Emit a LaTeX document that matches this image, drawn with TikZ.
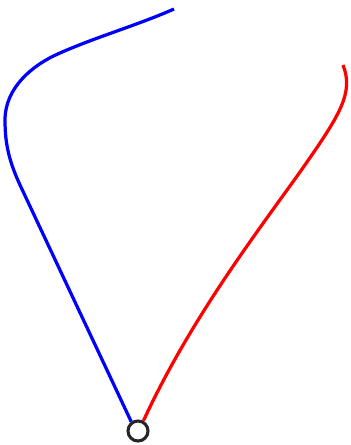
\documentclass[tikz,border=0pt]{standalone}
\usepackage{tikz}

\begin{document}
\begin{tikzpicture}[x=0.025cm,y=-0.025cm]

\useasboundingbox (0,0) rectangle (350,445);

\node[draw=black!85,circle,line width=2.2pt,minimum size=0.5cm,inner sep=0pt]
(O)
at (138,431)
{};

\coordinate
(B)
at (174,9);

\coordinate
(R)
at (343,65);

\draw[blue,line width=2.3pt] (O.126) -- (20,185)
  .. controls (9.5,162) and (5,145) .. (5,120)
  .. controls (5,88) and (32,65) .. (60,53)
  .. controls (96,37) and (138,25) .. (B);
\draw[red,line width=2.3pt] (O.62) .. controls (190,320) and (255,235) .. (300,172)
  .. controls (340,115) and (354,93) .. (R);

\end{tikzpicture}
\end{document}
